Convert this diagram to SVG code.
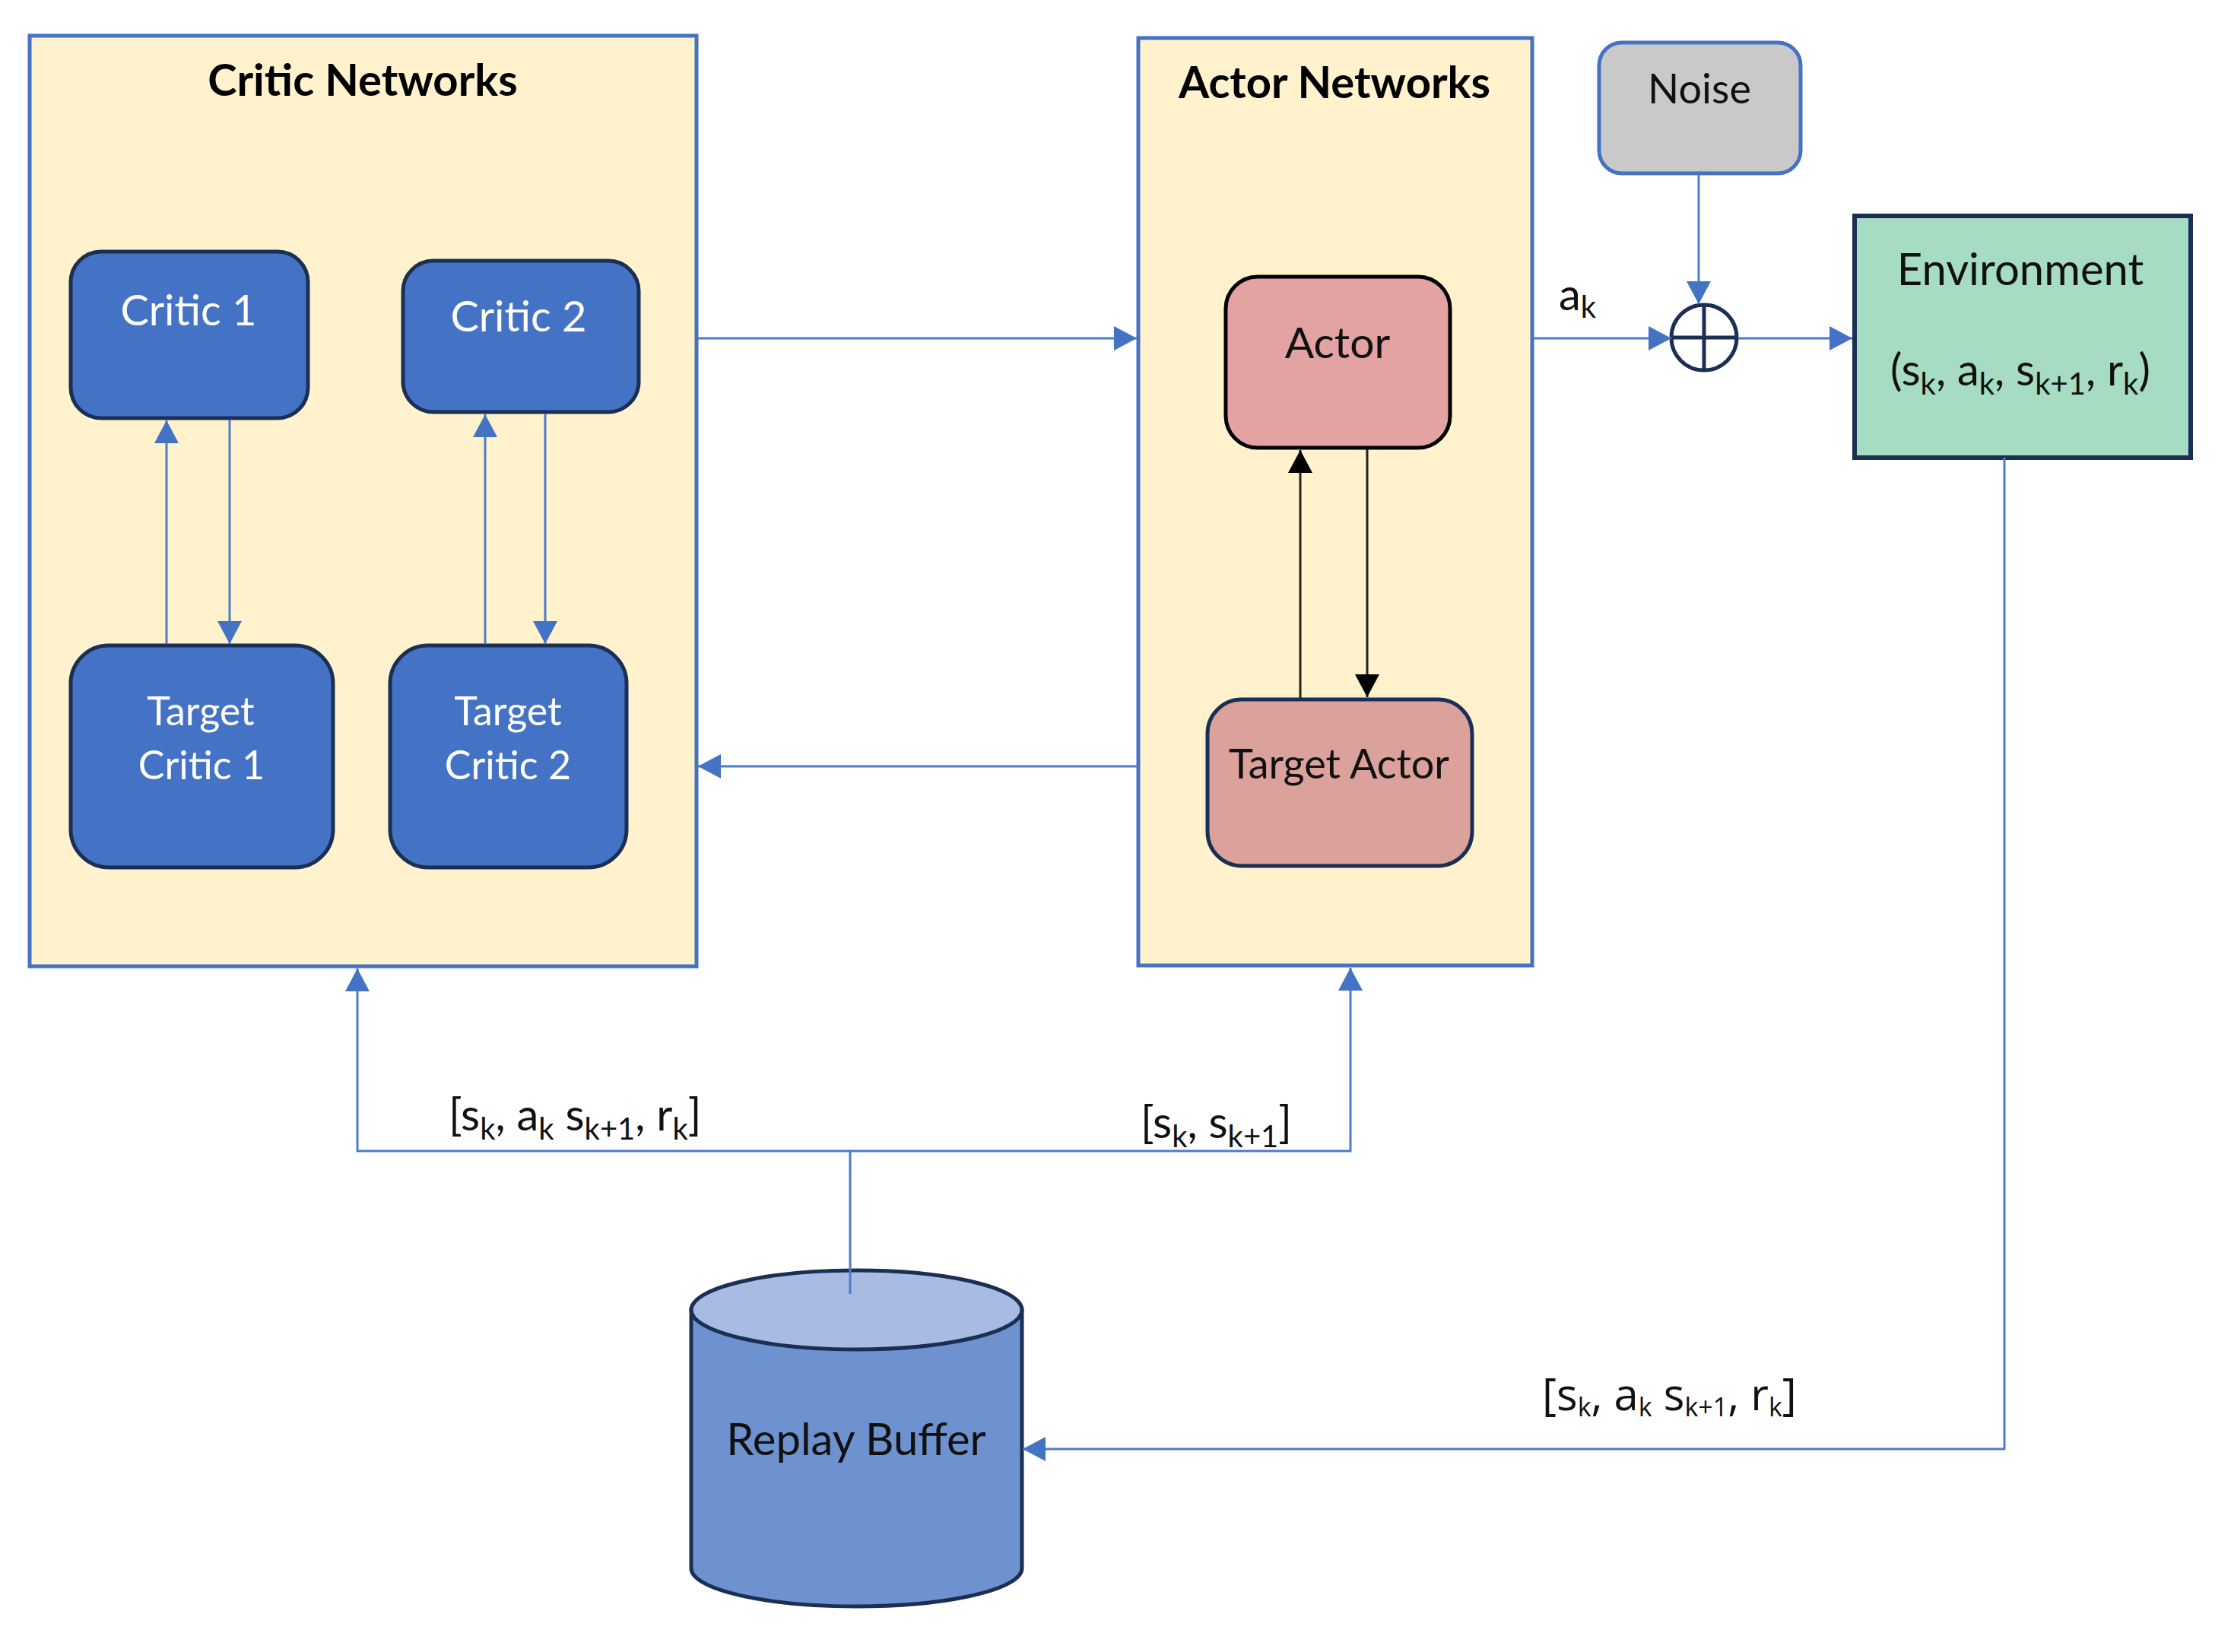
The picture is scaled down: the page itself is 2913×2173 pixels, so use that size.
<svg xmlns="http://www.w3.org/2000/svg" width="2913" height="2173" viewBox="0 0 2913 2173">
<style>
text{font-family:Lato,"Liberation Sans",sans-serif;}
.title{font-weight:bold;font-size:58px;fill:#000;text-anchor:middle;}
.wl{fill:#fff;font-size:56px;text-anchor:middle;}
.wl2{fill:#fff;font-size:52px;text-anchor:middle;}
.bl{fill:#111;font-size:54px;text-anchor:middle;}
.big{font-size:58px;}
.lbl{fill:#111;font-size:58px;}
.sub{font-size:40px;}
.os{font-family:"Open Sans","DejaVu Sans",sans-serif;}
.os .sub{font-size:34px;}
.cont{fill:#FFF2CC;stroke:#4472C4;stroke-width:5;}
.crit{fill:#4472C4;stroke:#1B2F55;stroke-width:5;}
.conn{fill:none;stroke:#4F7BCB;stroke-width:3;}
.connb{fill:none;stroke:#222;stroke-width:3;}
</style>
<defs>
<marker id="ah" markerUnits="userSpaceOnUse" markerWidth="32" markerHeight="32" refX="30" refY="16" orient="auto">
<path d="M0,0 L30,16 L0,32 Z" fill="#4472C4"/>
</marker>
<marker id="ahb" markerUnits="userSpaceOnUse" markerWidth="32" markerHeight="32" refX="30" refY="16" orient="auto">
<path d="M0,0 L30,16 L0,32 Z" fill="#000"/>
</marker>
</defs>
<rect width="2913" height="2173" fill="#fff"/>

<g id="critic-networks">
<rect class="cont" x="39" y="47" width="877" height="1224"/>
<text class="title" x="477" y="126">Critic Networks</text>
</g>
<g id="critic1">
<rect class="crit" x="93" y="331" width="312" height="219" rx="40"/>
<text class="wl" x="248" y="428">Critic 1</text>
</g>
<g id="critic2">
<rect class="crit" x="530" y="343" width="310" height="199" rx="40"/>
<text class="wl" x="682" y="436">Critic 2</text>
</g>
<g id="target-critic1">
<rect class="crit" x="93" y="849" width="345" height="292" rx="50"/>
<text class="wl2" x="264" y="954">Target</text>
<text class="wl2" x="265" y="1025">Critic 1</text>
</g>
<g id="target-critic2">
<rect class="crit" x="513" y="849" width="311" height="292" rx="50"/>
<text class="wl2" x="668" y="954">Target</text>
<text class="wl2" x="668" y="1025">Critic 2</text>
</g>

<g id="actor-networks">
<rect class="cont" x="1497" y="50" width="518" height="1220"/>
<text class="title" x="1755" y="129">Actor Networks</text>
</g>
<g id="actor">
<rect x="1612" y="364" width="295" height="225" rx="42" fill="#E3A3A3" stroke="#000" stroke-width="5"/>
<text class="bl" x="1759" y="471" style="font-size:57px">Actor</text>
</g>
<g id="target-actor">
<rect x="1588" y="920" width="348" height="219" rx="45" fill="#DBA19B" stroke="#1B2F55" stroke-width="5"/>
<text class="bl" x="1761" y="1024">Target Actor</text>
</g>

<g id="noise">
<rect x="2103" y="56" width="265" height="172" rx="30" fill="#C9C9C9" stroke="#4472C4" stroke-width="5"/>
<text class="bl" x="2235" y="136">Noise</text>
</g>
<g id="sum">
<circle cx="2241" cy="444" r="43" fill="#fff" stroke="#1B2F55" stroke-width="5"/>
<line x1="2241" y1="401" x2="2241" y2="487" stroke="#1B2F55" stroke-width="5"/>
<line x1="2198" y1="444" x2="2284" y2="444" stroke="#1B2F55" stroke-width="5"/>
</g>
<g id="environment">
<rect x="2439" y="284" width="442" height="318" fill="#A6DCC1" stroke="#1B2F55" stroke-width="6"/>
<text class="bl big" x="2657" y="375">Environment</text>
<text class="bl big" x="2657" y="507">(s<tspan class="sub" dy="12">k</tspan><tspan dy="-12">, a</tspan><tspan class="sub" dy="12">k</tspan><tspan dy="-12">, s</tspan><tspan class="sub" dy="12">k+1</tspan><tspan dy="-12">, r</tspan><tspan class="sub" dy="12">k</tspan><tspan dy="-12">)</tspan></text>
</g>

<g id="replay-buffer">
<path d="M909,1723 V2063 A217.5,50 0 0 0 1344,2063 V1723 Z" fill="#6E91CF" stroke="#1B2F55" stroke-width="5"/>
<ellipse cx="1126.5" cy="1723" rx="217.5" ry="52" fill="#A8BCE3" stroke="#1B2F55" stroke-width="5"/>
<text class="bl big" x="1126" y="1914">Replay Buffer</text>
</g>

<g id="connectors">
<line class="conn" x1="918" y1="445" x2="1495" y2="445" marker-end="url(#ah)"/>
<line class="conn" x1="1495" y1="1008" x2="918" y2="1008" marker-end="url(#ah)"/>
<line class="conn" x1="2017" y1="445" x2="2198" y2="445" marker-end="url(#ah)"/>
<line class="conn" x1="2234" y1="230" x2="2234" y2="400" marker-end="url(#ah)"/>
<line class="conn" x1="2286" y1="445" x2="2436" y2="445" marker-end="url(#ah)"/>
<line class="conn" x1="219" y1="847" x2="219" y2="553" marker-end="url(#ah)"/>
<line class="conn" x1="302" y1="552" x2="302" y2="847" marker-end="url(#ah)"/>
<line class="conn" x1="638" y1="847" x2="638" y2="545" marker-end="url(#ah)"/>
<line class="conn" x1="717" y1="544" x2="717" y2="847" marker-end="url(#ah)"/>
<line class="connb" x1="1710" y1="918" x2="1710" y2="592" marker-end="url(#ahb)"/>
<line class="connb" x1="1798" y1="591" x2="1798" y2="917" marker-end="url(#ahb)"/>
<path class="conn" d="M1118,1702 V1514 H470 V1274" marker-end="url(#ah)"/>
<path class="conn" d="M1118,1514 H1776 V1273" marker-end="url(#ah)"/>
<path class="conn" d="M2636,602 V1906 H1345" marker-end="url(#ah)"/>
</g>

<g id="labels">
<text class="lbl" x="2050" y="408">a<tspan class="sub" dy="10">k</tspan></text>
<text class="lbl" x="590" y="1487">[s<tspan class="sub" dy="12">k</tspan><tspan dy="-12">, a</tspan><tspan class="sub" dy="12">k</tspan><tspan dy="-12"> s</tspan><tspan class="sub" dy="12">k+1</tspan><tspan dy="-12">, r</tspan><tspan class="sub" dy="12">k</tspan><tspan dy="-12">]</tspan></text>
<text class="lbl" x="1500" y="1497">[s<tspan class="sub" dy="12">k</tspan><tspan dy="-12">, s</tspan><tspan class="sub" dy="12">k+1</tspan><tspan dy="-12">]</tspan></text>
<text class="lbl os" x="2028" y="1855">[s<tspan class="sub" dy="8">k</tspan><tspan dy="-8">, a</tspan><tspan class="sub" dy="8">k</tspan><tspan dy="-8"> s</tspan><tspan class="sub" dy="8">k+1</tspan><tspan dy="-8">, r</tspan><tspan class="sub" dy="8">k</tspan><tspan dy="-8">]</tspan></text>
</g>
</svg>
